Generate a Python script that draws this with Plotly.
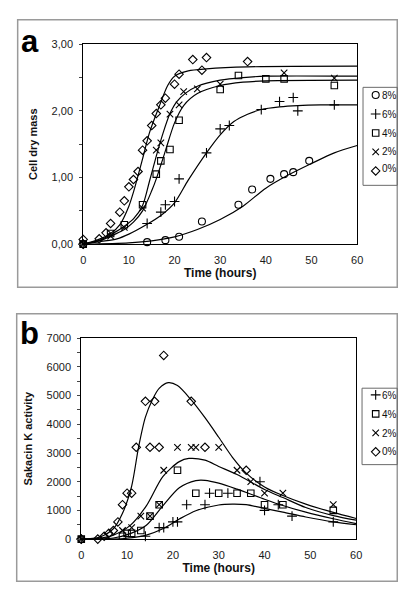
import plotly.graph_objects as go

# ---------------- Panel a: cell dry mass ----------------
a_series = ["8%", "6%", "4%", "2%", "0%"]

a_x_8 = [0, 14, 18, 21, 26, 34, 37, 41, 44, 46, 49.5]
a_y_8 = [0.0, 0.03, 0.06, 0.11, 0.34, 0.59, 0.82, 0.98, 1.05, 1.08, 1.25]

a_x_6 = [0, 14, 17, 18, 20, 21, 27, 30, 32, 39, 43, 46, 47, 55]
a_y_6 = [0.0, 0.31, 0.48, 0.59, 0.64, 0.98, 1.37, 1.73, 1.78, 2.02, 2.14, 2.20, 2.00, 2.09]

a_x_4 = [0, 6, 9, 13, 16, 17, 19, 21, 30, 34, 40, 44, 55]
a_y_4 = [0.0, 0.16, 0.29, 0.59, 1.05, 1.25, 1.42, 1.86, 2.32, 2.53, 2.48, 2.48, 2.38]

a_x_2 = [0, 6, 9, 13, 16, 17, 19, 21, 22, 25, 30, 44, 55]
a_y_2 = [0.0, 0.12, 0.25, 0.54, 1.41, 1.52, 1.95, 2.09, 2.29, 2.33, 2.40, 2.57, 2.49]

a_x_0 = [0, 0, 3.5, 5, 6, 8, 9, 10, 11, 12, 13, 14, 15, 16, 17, 18, 20, 21, 24, 26, 27, 36]
a_y_0 = [0.0, 0.07, 0.08, 0.17, 0.31, 0.48, 0.65, 0.86, 0.97, 1.09, 1.41, 1.55, 1.78, 1.96, 2.09,
         2.19, 2.40, 2.55, 2.77, 2.61, 2.80, 2.74]

# fitted curves
a_cx_8 = [0, 10, 15, 20, 25, 30, 35, 40, 45, 50, 55, 60]
a_cy_8 = [0.0, 0.02, 0.05, 0.11, 0.22, 0.37, 0.57, 0.84, 1.04, 1.21, 1.37, 1.48]

a_cx_6 = [0, 4, 7.4, 10, 13.8, 17, 20, 23, 27, 30, 33, 36, 39, 43, 47, 52, 60]
a_cy_6 = [0.0, 0.04, 0.08, 0.15, 0.29, 0.43, 0.62, 0.96, 1.37, 1.64, 1.84, 1.95, 2.02, 2.06, 2.08, 2.09, 2.09]

a_cx_4 = [0, 4, 7, 9, 11, 13, 15, 16, 18, 20, 22, 25, 30, 35, 40, 60]
a_cy_4 = [0.0, 0.06, 0.15, 0.22, 0.33, 0.50, 0.80, 0.98, 1.40, 1.82, 2.08, 2.26, 2.38, 2.43, 2.45, 2.46]

a_cx_2 = [0, 4, 7, 9, 11, 13, 14.5, 16, 17.5, 19, 20.5, 22.5, 25, 30, 35, 40, 60]
a_cy_2 = [0.0, 0.07, 0.18, 0.27, 0.38, 0.58, 0.94, 1.32, 1.67, 1.96, 2.14, 2.27, 2.37, 2.46, 2.50, 2.52, 2.52]

a_cx_0 = [0, 3, 6, 8, 10, 11, 13, 14.5, 16.5, 18.5, 20, 23, 27, 36, 60]
a_cy_0 = [0.0, 0.06, 0.16, 0.29, 0.57, 0.78, 1.28, 1.67, 2.04, 2.38, 2.52, 2.60, 2.63, 2.66, 2.67]

a_ytick_vals = [0, 1, 2, 3]
a_ytick_text = ["0,00", "1,00", "2,00", "3,00"]

# ---------------- Panel b: sakacin K activity ----------------
b_series = ["6%", "4%", "2%", "0%"]

b_x_6 = [0, 14, 17, 18, 20, 21, 23, 27, 28, 32, 39, 40, 43, 46, 55]
b_y_6 = [0, 100, 400, 400, 600, 600, 1200, 1200, 1600, 1600, 2000, 1000, 1200, 800, 600]

b_x_4 = [0, 9, 10, 11, 13, 15, 17, 21, 25, 30, 34, 37, 40, 44, 55]
b_y_4 = [0, 100, 200, 200, 300, 800, 1200, 2400, 1600, 1600, 1600, 1600, 1200, 1200, 1000]

b_x_2 = [0, 9, 11, 13, 15, 17, 18, 21, 24, 25, 30, 34, 37, 40, 44, 55]
b_y_2 = [0, 300, 400, 800, 800, 1200, 2400, 3200, 3200, 3200, 3200, 2400, 2000, 1600, 1600, 1200]

b_x_0 = [0, 3.6, 5, 6, 7, 8, 9, 10, 11, 12, 14, 15, 16, 17, 18, 24, 27, 36]
b_y_0 = [0, 0, 100, 200, 300, 600, 1200, 1600, 1600, 3200, 4800, 3200, 4800, 3200, 6400, 4800, 3200, 2400]

b_cx_6 = [0, 10, 14.2, 17.8, 21.4, 25, 30, 33, 36, 40, 44, 49, 55, 60]
b_cy_6 = [0, 30, 140, 360, 700, 990, 1190, 1220, 1200, 1070, 940, 770, 600, 500]

b_cx_4 = [0, 7, 10.7, 14.2, 17.8, 21.4, 25, 27, 30, 34, 40, 44, 49, 55, 60]
b_cy_4 = [0, 40, 190, 480, 1160, 1790, 2040, 2050, 1950, 1740, 1390, 1170, 940, 710, 540]

b_cx_2 = [0, 4, 7, 10.7, 14.2, 17.8, 21.4, 23.5, 27, 30, 34, 40, 44, 49, 55, 60]
b_cy_2 = [0, 30, 140, 480, 1160, 2180, 2700, 2810, 2750, 2530, 2250, 1730, 1450, 1100, 820, 660]

b_cx_0 = [0, 4, 7, 9, 11, 12.5, 14, 15.5, 17, 19, 21, 24, 27, 30, 33, 36, 40, 44, 49, 55, 60]
b_cy_0 = [0, 70, 360, 900, 1850, 3200, 4250, 4850, 5250, 5450, 5350, 4850, 4230, 3550, 2850,
          2300, 1820, 1520, 1220, 930, 720]

b_ytick_vals = [0, 1000, 2000, 3000, 4000, 5000, 6000, 7000]
b_ytick_text = ["0", "1000", "2000", "3000", "4000", "5000", "6000", "7000"]

x_tick_vals = [0, 10, 20, 30, 40, 50, 60]
x_tick_text = ["0", "10", "20", "30", "40", "50", "60"]

# ---------------- styles ----------------
FONT = "Arial, Liberation Sans, sans-serif"
SYM = {"8%": ("circle-open", 7), "6%": ("cross-thin-open", 7), "4%": ("square-open", 6.5),
       "2%": ("x-thin-open", 6.5), "0%": ("diamond-open", 6.5)}
W, H = 415, 600

fig = go.Figure()

a_pts = {"8%": (a_x_8, a_y_8), "6%": (a_x_6, a_y_6), "4%": (a_x_4, a_y_4),
         "2%": (a_x_2, a_y_2), "0%": (a_x_0, a_y_0)}
a_crv = {"8%": (a_cx_8, a_cy_8), "6%": (a_cx_6, a_cy_6), "4%": (a_cx_4, a_cy_4),
         "2%": (a_cx_2, a_cy_2), "0%": (a_cx_0, a_cy_0)}
b_pts = {"6%": (b_x_6, b_y_6), "4%": (b_x_4, b_y_4), "2%": (b_x_2, b_y_2), "0%": (b_x_0, b_y_0)}
b_crv = {"6%": (b_cx_6, b_cy_6), "4%": (b_cx_4, b_cy_4), "2%": (b_cx_2, b_cy_2), "0%": (b_cx_0, b_cy_0)}


def marker(s):
    sym, size = SYM[s]
    return dict(symbol=sym, size=size, color="black", line=dict(color="black", width=1.1))


def add_panel(series, pts, crv, xa, ya, legend):
    for s in series:
        cx, cy = crv[s]
        fig.add_trace(go.Scatter(x=cx, y=cy, mode="lines", xaxis=xa, yaxis=ya,
                                 line=dict(color="black", width=1.2, shape="spline", smoothing=0.8),
                                 showlegend=False, hoverinfo="skip"))
    for s in series:
        x, y = pts[s]
        fig.add_trace(go.Scatter(x=x, y=y, mode="markers", name=s, xaxis=xa, yaxis=ya,
                                 cliponaxis=False, marker=marker(s), showlegend=False))
    # legend symbols (their labels are placed as text next to them)
    for s in series:
        fig.add_trace(go.Scatter(x=[None], y=[None], mode="markers", name=" ", xaxis=xa, yaxis=ya,
                                 legend=legend, marker=marker(s), hoverinfo="skip"))


add_panel(a_series, a_pts, a_crv, "x", "y", "legend")
add_panel(b_series, b_pts, b_crv, "x2", "y2", "legend2")

tickfont = dict(family=FONT, size=11, color="#1a1a1a")
titlefont = dict(family=FONT, size=12, color="#111", weight="bold")


def xaxis(domain, anchor):
    return dict(domain=domain, anchor=anchor, range=[0, 60], tickvals=x_tick_vals, ticktext=x_tick_text,
                showline=True, mirror=True, linecolor="black", linewidth=1, showgrid=False, zeroline=False,
                ticks="", ticklabelstandoff=6, tickfont=tickfont,
                title=dict(text="Time (hours)", font=titlefont, standoff=2))


def yaxis(domain, anchor, rng, vals, text, title, minor_dt):
    return dict(domain=domain, anchor=anchor, range=rng, tickvals=vals, ticktext=text,
                showline=True, mirror=True, linecolor="black", linewidth=1, showgrid=False, zeroline=False,
                ticks="outside", ticklen=3, tickcolor="#444", ticklabelstandoff=4, tickfont=tickfont,
                minor=dict(dtick=minor_dt, ticks="outside", ticklen=3, tickcolor="#444", showgrid=False),
                title=dict(text=title, font=dict(family=FONT, size=11, color="#111", weight="bold"),
                           standoff=11))


legend_font = dict(family=FONT, size=10, color="#111")
leg_common = dict(xanchor="left", yanchor="top", bgcolor="rgba(0,0,0,0)", borderwidth=0,
                  font=legend_font, itemwidth=30, tracegroupgap=0)

# legend label texts and their rows (pixel rows of the reference)
a_leg_rows = [92, 112, 131, 149, 167]
b_leg_rows = [398, 418, 437, 456]

annotations = [
    dict(text="a", xref="paper", yref="paper", x=27.5 / W, y=1 - 36 / H, xanchor="center", yanchor="middle",
         showarrow=False, font=dict(family=FONT, size=31, color="black", weight="bold")),
    dict(text="b", xref="paper", yref="paper", x=27.5 / W, y=1 - 334 / H, xanchor="center", yanchor="middle",
         showarrow=False, font=dict(family=FONT, size=31, color="black", weight="bold")),
]
for s, r in zip(a_series, a_leg_rows):
    annotations.append(dict(text=s, xref="paper", yref="paper", x=385.5 / W, y=1 - (r - 1) / H,
                            xanchor="left", yanchor="middle", showarrow=False, font=legend_font))
for s, r in zip(b_series, b_leg_rows):
    annotations.append(dict(text=s, xref="paper", yref="paper", x=385.5 / W, y=1 - (r - 1) / H,
                            xanchor="left", yanchor="middle", showarrow=False, font=legend_font))

fig.update_layout(
    width=W, height=H, margin=dict(l=0, r=0, t=0, b=0), autosize=False,
    paper_bgcolor="white", plot_bgcolor="white", font=dict(family=FONT, color="#111"),
    xaxis=xaxis([82 / W, 362 / W], "y"),
    yaxis=yaxis([1 - 243 / H, 1 - 39 / H], "x", [0, 3], a_ytick_vals, a_ytick_text, "Cell dry mass", 0.5),
    xaxis2=xaxis([80 / W, 361 / W], "y2"),
    yaxis2=yaxis([1 - 544 / H, 1 - 339 / H], "x2", [0, 7000], b_ytick_vals, b_ytick_text,
                 "Sakacin K activity", 500),
    legend=dict(x=360.5 / W, y=1 - 76 / H, **leg_common),
    legend2=dict(x=360.5 / W, y=1 - 382 / H, **leg_common),
    showlegend=True,
    shapes=[
        dict(type="rect", xref="paper", yref="paper", x0=15 / W, x1=403 / W, y0=1 - 287 / H, y1=1 - 14 / H,
             line=dict(color="#9a9a9a", width=1.5), layer="below"),
        dict(type="rect", xref="paper", yref="paper", x0=14 / W, x1=403 / W, y0=1 - 587 / H, y1=1 - 314 / H,
             line=dict(color="#9a9a9a", width=1.5), layer="below"),
        dict(type="rect", xref="paper", yref="paper", x0=368 / W, x1=403 / W, y0=1 - 183 / H, y1=1 - 83 / H,
             line=dict(color="#6a6a6a", width=1), layer="above"),
        dict(type="rect", xref="paper", yref="paper", x0=367 / W, x1=403 / W, y0=1 - 468 / H, y1=1 - 390 / H,
             line=dict(color="#6a6a6a", width=1), layer="above"),
    ],
    annotations=annotations,
)

fig.write_html("out.html", config={"displayModeBar": False},
               post_script="document.body.style.margin='0';document.body.style.overflow='hidden';")
